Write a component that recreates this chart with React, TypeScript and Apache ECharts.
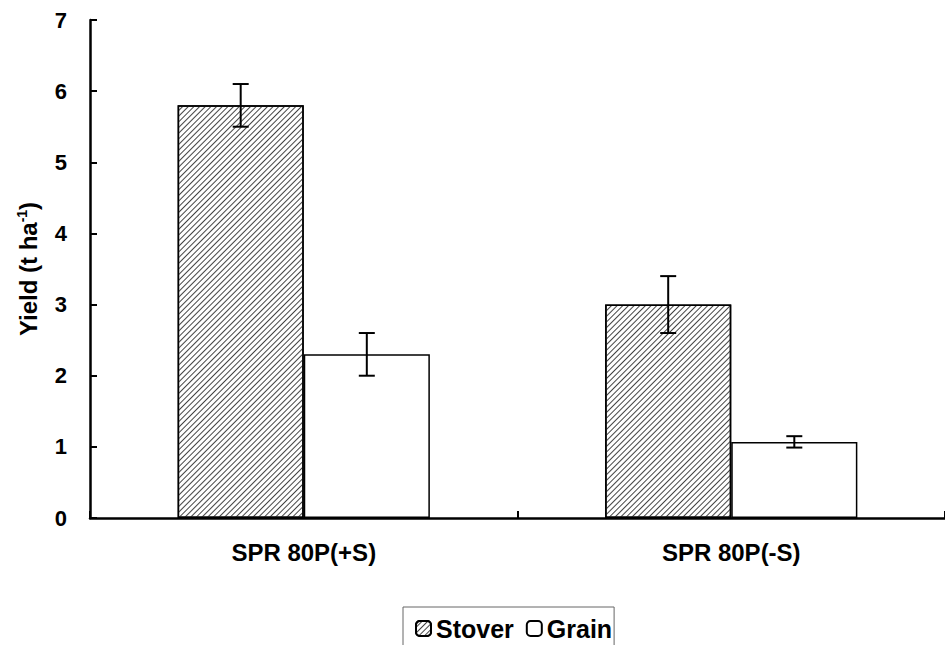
import React, { useEffect, useRef } from "react";
import * as echarts from "echarts";

const categories = ["SPR 80P(+S)", "SPR 80P(-S)"];
const stover = [5.8, 3.0];
const stoverErr = [0.3, 0.4];
const grain = [2.3, 1.07];
const grainErr = [0.3, 0.08];
const yTicks = { min: 0, max: 7, interval: 1 };

const BAR_GAP_CAT = 0.41;

export default function App() {
  const ref = useRef<HTMLDivElement>(null);
  useEffect(() => {
    document.body.style.margin = "0";
    const chart = echarts.init(ref.current!, null, { renderer: "svg" });
    const errData: any[] = [];
    categories.forEach((c, i) => {
      errData.push([i, stover[i] - stoverErr[i], stover[i] + stoverErr[i], -1]);
      errData.push([i, grain[i] - grainErr[i], grain[i] + grainErr[i], 1]);
    });
    const font = "Arial, 'Liberation Sans', sans-serif";
    chart.setOption({
      animation: false,
      backgroundColor: "#fff",
      grid: { left: 90, right: -6, top: 20, bottom: 127, containLabel: false },
      legend: {
        bottom: -14,
        left: 403,
        itemWidth: 15,
        itemHeight: 15,
        itemGap: 12,
        padding: [9, 2, 18, 12],
        borderColor: "#666",
        borderWidth: 1,
        textStyle: { fontFamily: font, fontWeight: "bold", fontSize: 25, color: "#000" },
        data: ["Stover", "Grain"],
      },
      xAxis: {
        type: "category",
        data: categories,
        axisLine: { lineStyle: { color: "#000", width: 2.5 } },
        axisTick: { show: true, inside: true, length: 7, lineStyle: { color: "#000", width: 2 } },
        axisLabel: { fontFamily: font, fontWeight: "bold", fontSize: 24, color: "#000", margin: 22 },
      },
      yAxis: {
        type: "value",
        min: yTicks.min,
        max: yTicks.max,
        interval: yTicks.interval,
        name: "{a|Yield (t ha}{b|-1}{a|)}",
        nameLocation: "middle",
        nameGap: 49,
        nameRotate: 90,
        nameTextStyle: {
          rich: {
            a: { fontFamily: font, fontWeight: "bold", fontSize: 24, color: "#000" },
            b: { fontFamily: font, fontWeight: "bold", fontSize: 14, color: "#000", verticalAlign: "bottom", padding: [0, 0, 12, 0] },
          },
        },
        splitLine: { show: false },
        axisLine: { show: true, lineStyle: { color: "#000", width: 2.5 } },
        axisTick: { show: true, inside: true, length: 7, lineStyle: { color: "#000", width: 2 } },
        axisLabel: { fontFamily: font, fontWeight: "bold", fontSize: 22, color: "#000", margin: 23 },
      },
      series: [
        {
          name: "Stover",
          type: "bar",
          data: stover,
          barGap: 0,
          barCategoryGap: BAR_GAP_CAT * 100 + "%",
          itemStyle: {
            color: "#fff",
            borderColor: "#000",
            borderWidth: 1.5,
            decal: {
              symbol: "rect",
              symbolSize: 1,
              color: "#444",
              dashArrayX: [1, 0],
              dashArrayY: [1, 3],
              rotation: -Math.PI / 4,
            },
          },
        },
        {
          name: "Grain",
          type: "bar",
          data: grain,
          itemStyle: { color: "#fff", borderColor: "#000", borderWidth: 1.5 },
        },
        {
          type: "custom",
          data: errData,
          z: 10,
          renderItem: (params: any, api: any) => {
            const cat = api.value(0);
            const lo = api.value(1);
            const hi = api.value(2);
            const side = api.value(3);
            const catW = api.size([1, 0])[0];
            const barW = (catW * (1 - BAR_GAP_CAT)) / 2;
            const pLo = api.coord([cat, lo]);
            const pHi = api.coord([cat, hi]);
            const x = pLo[0] + (side * barW) / 2;
            const cap = 8;
            const st = { stroke: "#000", lineWidth: 2 };
            return {
              type: "group",
              children: [
                { type: "line", shape: { x1: x, y1: pLo[1], x2: x, y2: pHi[1] }, style: st },
                { type: "line", shape: { x1: x - cap, y1: pLo[1], x2: x + cap, y2: pLo[1] }, style: st },
                { type: "line", shape: { x1: x - cap, y1: pHi[1], x2: x + cap, y2: pHi[1] }, style: st },
              ],
            };
          },
        },
      ],
    });
    return () => chart.dispose();
  }, []);
  return <div ref={ref} style={{ width: 945, height: 645 }} />;
}
